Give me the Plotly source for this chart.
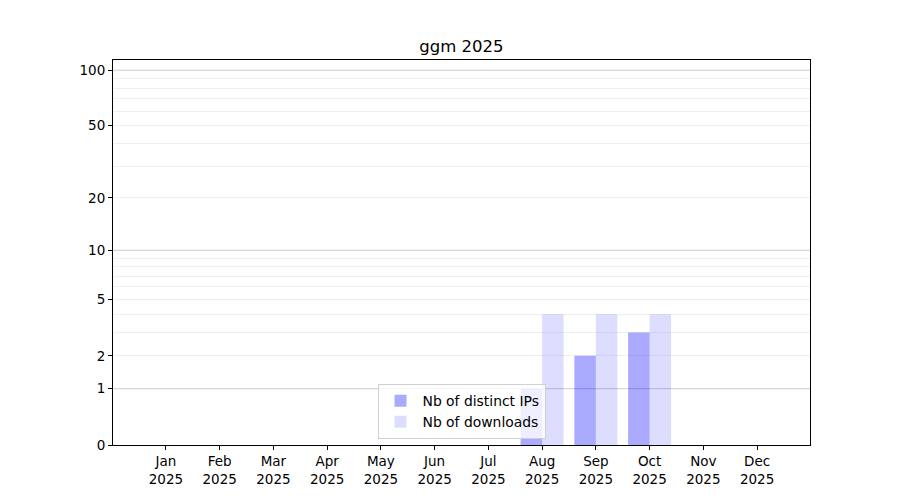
import numpy as np
import plotly.graph_objs as go

months = ["Jan", "Feb", "Mar", "Apr", "May", "Jun", "Jul", "Aug", "Sep", "Oct", "Nov", "Dec"]
year = "2025"
distinct_ips = [0, 0, 0, 0, 0, 0, 0, 1, 2, 3, 0, 0]
downloads = [0, 0, 0, 0, 0, 0, 0, 4, 4, 4, 0, 0]

tick_values = [0, 1, 2, 5, 10, 20, 50, 100]
minor_values = [2, 3, 4, 5, 6, 7, 8, 9, 20, 30, 40, 50, 60, 70, 80, 90]
major_values = [1, 10, 100]

# echelle log(1+x) a la main
def tr(v):
    return np.log10(1 + np.asarray(v, dtype=float))

x = list(range(len(months)))
labels = [m + "<br>" + year for m in months]

data = [
    go.Bar(x=x, y=tr(distinct_ips), name="Nb of distinct IPs",
           width=0.4, offset=-0.4,
           marker=dict(color="rgba(0,0,255,0.333)", line=dict(width=0))),
    go.Bar(x=x, y=tr(downloads), name="Nb of downloads",
           width=0.4, offset=0,
           marker=dict(color="rgba(0,0,255,0.133)", line=dict(width=0))),
]

shapes = [dict(type="line", xref="paper", x0=0, x1=1, yref="y",
               y0=float(tr(v)), y1=float(tr(v)),
               line=dict(color="#cccccc", width=1), layer="below")
          for v in major_values]

layout = go.Layout(
    width=900, height=500,
    plot_bgcolor="#FFFFFF", paper_bgcolor="#FFFFFF",
    font=dict(family="DejaVu Sans", size=13.5, color="black"),
    margin=dict(l=113, r=90, t=60, b=55),
    title=dict(text="ggm 2025", x=0.5, xref="paper", y=1 - 46 / 500,
               yanchor="middle", font=dict(size=16.5)),
    barmode="overlay",
    showlegend=True,
    legend=dict(x=0.5, xanchor="center", y=0.015, yanchor="bottom",
                bgcolor="rgba(255,255,255,0.8)", bordercolor="#d0d0d0",
                borderwidth=1, font=dict(size=13.9), itemwidth=34),
    xaxis=dict(range=[-0.985, 11.985], tickmode="array", tickvals=x,
               ticktext=labels, ticks="outside", ticklen=4, tickcolor="black",
               showline=True, linecolor="black", linewidth=1, mirror=True,
               showgrid=False, zeroline=False),
    yaxis=dict(range=[0, 2.059], tickmode="array", tickvals=tr(tick_values),
               ticktext=[str(v) for v in tick_values], ticks="outside",
               ticklen=4, tickcolor="black",
               showline=True, linecolor="black", linewidth=1, mirror=True,
               showgrid=False, zeroline=False,
               minor=dict(tickmode="array", tickvals=tr(minor_values),
                          showgrid=True, gridcolor="#efefef", gridwidth=1,
                          ticks="")),
    shapes=shapes,
)

fig = go.Figure(data=data, layout=layout)
fig.write_html("out.html", config=dict(displayModeBar=False),
               post_script="document.body.style.margin='0';")
